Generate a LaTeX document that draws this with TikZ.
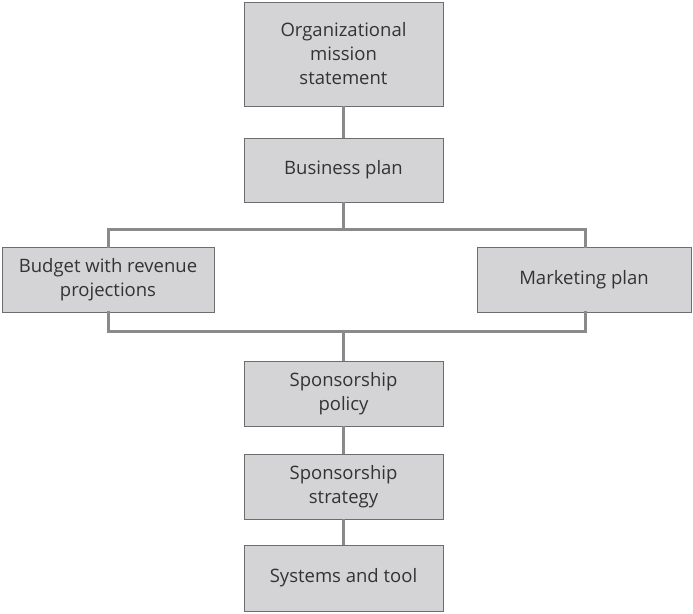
\documentclass[tikz,border=0pt]{standalone}
\usepackage{fontspec}
\setmainfont{Open Sans}
\definecolor{boxfill}{HTML}{D4D4D6}
\definecolor{boxline}{HTML}{6D6D6D}
\definecolor{conn}{HTML}{8A8A8A}
\definecolor{txt}{HTML}{333333}
\begin{document}
\begin{tikzpicture}[x=1pt,y=-1pt,
  box/.style={draw=boxline, fill=boxfill, line width=0.9pt, inner sep=0pt,
    align=center, text=txt, font=\fontsize{18.5}{24}\selectfont},
  link/.style={draw=conn, line width=3pt}]
\useasboundingbox (0,0) rectangle (693,613);
\coordinate (bl) at (108,229);
\coordinate (br) at (585,229);
\coordinate (bm) at (343.5,229);
\coordinate (cl) at (108,331);
\coordinate (cr) at (585,331);
\coordinate (cm) at (343.5,331);
\node[box, minimum width=199pt, minimum height=104pt] (mission) at (343.5,54) {Organizational\\mission\\statement};
\node[box, minimum width=199pt, minimum height=64pt] (business) at (343.5,170) {Business plan};
\node[box, minimum width=212pt, minimum height=65pt] (budget) at (108,279.5) {Budget with revenue\\projections};
\node[box, minimum width=214pt, minimum height=65pt] (marketing) at (584,279.5) {Marketing plan};
\node[box, minimum width=199pt, minimum height=65pt] (policy) at (343.5,393.5) {Sponsorship\\policy};
\node[box, minimum width=199pt, minimum height=65pt] (strategy) at (343.5,486.5) {Sponsorship\\strategy};
\node[box, minimum width=199pt, minimum height=66pt] (systems) at (343.5,578) {Systems and tool};
\draw[link] (mission.south) -- (business.north);
\draw[link] (business.south) -- (bm);
\draw[link, line cap=rect] (budget.north -| bl) -- (bl) -- (br) -- (marketing.north -| br);
\draw[link, line cap=rect] (budget.south -| cl) -- (cl) -- (cr) -- (marketing.south -| cr);
\draw[link] (cm) -- (policy.north);
\draw[link] (policy.south) -- (strategy.north);
\draw[link] (strategy.south) -- (systems.north);
\end{tikzpicture}
\end{document}
